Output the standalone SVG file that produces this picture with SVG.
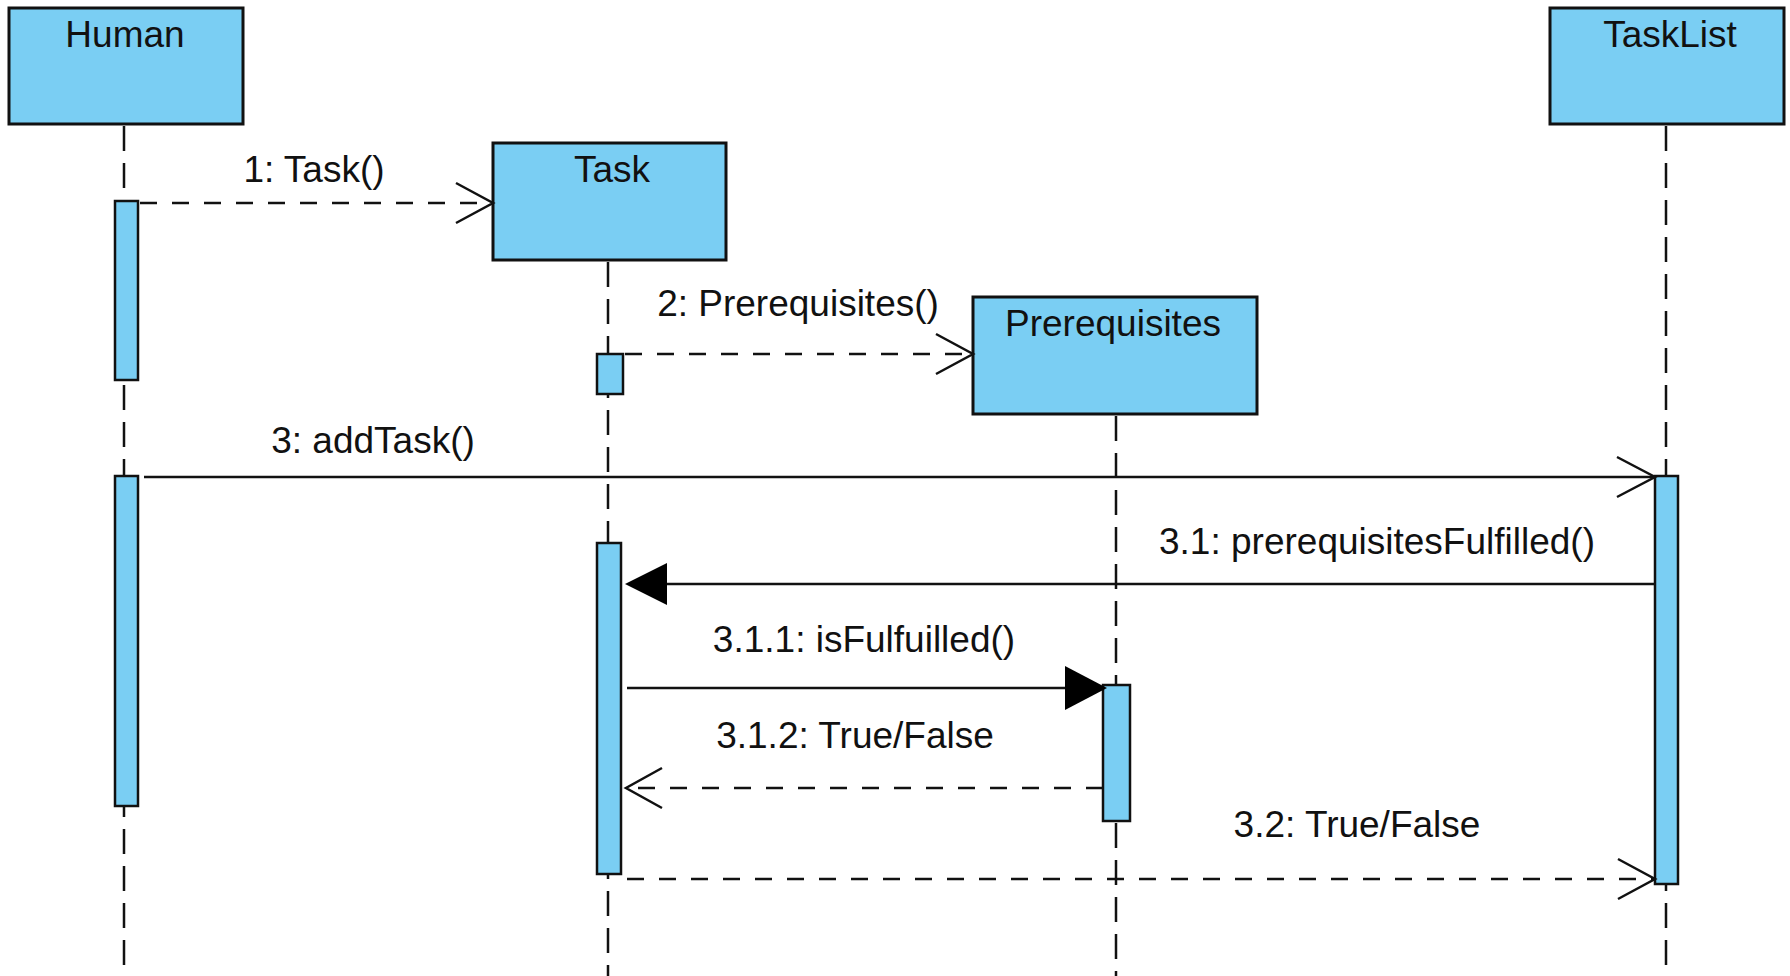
<svg xmlns="http://www.w3.org/2000/svg" width="1790" height="976" viewBox="0 0 1790 976">
  <defs>
    <style>
      .box { fill: #7ACEF3; stroke: #111; stroke-width: 3; }
      .act { fill: #7ACEF3; stroke: #111; stroke-width: 2.5; }
      .life { stroke: #111; stroke-width: 2.5; stroke-dasharray: 25 12; fill: none; }
      .msg { stroke: #111; stroke-width: 2.5; fill: none; }
      .ret { stroke: #111; stroke-width: 2.5; fill: none; stroke-dasharray: 17 15; }
      .head-open { stroke: #111; stroke-width: 2.5; fill: none; }
      .head-fill { fill: #000; stroke: none; }
      text { font-family: "Liberation Sans", Arial, sans-serif; font-size: 37px; fill: #111; }
      .c { text-anchor: middle; }
    </style>
  </defs>

  <rect width="1790" height="976" fill="#fff"/>

  <!-- lifelines -->
  <g id="lifelines">
    <line class="life" x1="124" y1="126" x2="124" y2="976"/>
    <line class="life" x1="608" y1="262" x2="608" y2="976"/>
    <line class="life" x1="1116" y1="416" x2="1116" y2="976"/>
    <line class="life" x1="1666" y1="126" x2="1666" y2="976"/>
  </g>

  <!-- objects -->
  <g id="human">
    <rect class="box" x="9" y="8" width="234" height="116"/>
    <text class="c" x="125" y="47">Human</text>
    <rect class="act" x="115" y="201" width="23" height="179"/>
    <rect class="act" x="115" y="476" width="23" height="330"/>
  </g>

  <g id="task">
    <rect class="box" x="493" y="143" width="233" height="117"/>
    <text class="c" x="612" y="182">Task</text>
    <rect class="act" x="597" y="354" width="26" height="40"/>
    <rect class="act" x="597" y="543" width="24" height="331"/>
  </g>

  <g id="prerequisites">
    <rect class="box" x="973" y="297" width="284" height="117"/>
    <text class="c" x="1113" y="336">Prerequisites</text>
    <rect class="act" x="1103" y="685" width="27" height="136"/>
  </g>

  <g id="tasklist">
    <rect class="box" x="1550" y="8" width="234" height="116"/>
    <text class="c" x="1670" y="47">TaskList</text>
    <rect class="act" x="1655" y="476" width="23" height="408"/>
  </g>

  <!-- messages -->
  <g id="connectors">
    <!-- 1: Task() -->
    <line class="ret" x1="140" y1="203" x2="492" y2="203"/>
    <polyline class="head-open" points="456,183 493,203 456,223"/>
    <text class="c" x="314" y="182">1: Task()</text>

    <!-- 2: Prerequisites() -->
    <line class="ret" x1="625" y1="354" x2="972" y2="354"/>
    <polyline class="head-open" points="936,334 973,354 936,374"/>
    <text class="c" x="798" y="316">2: Prerequisites()</text>

    <!-- 3: addTask() -->
    <line class="msg" x1="144" y1="477" x2="1654" y2="477"/>
    <polyline class="head-open" points="1617,457 1655,477 1617,497"/>
    <text class="c" x="373" y="453">3: addTask()</text>

    <!-- 3.1: prerequisitesFulfilled() -->
    <line class="msg" x1="1655" y1="584" x2="660" y2="584"/>
    <polygon class="head-fill" points="625,584 667,563 667,605"/>
    <text class="c" x="1377" y="554">3.1: prerequisitesFulfilled()</text>

    <!-- 3.1.1: isFulfuilled() -->
    <line class="msg" x1="627" y1="688" x2="1070" y2="688"/>
    <polygon class="head-fill" points="1107,688 1065,666 1065,710"/>
    <text class="c" x="864" y="652">3.1.1: isFulfuilled()</text>

    <!-- 3.1.2: True/False -->
    <line class="ret" x1="1103" y1="788" x2="626" y2="788"/>
    <polyline class="head-open" points="662,768 626,788 662,808"/>
    <text class="c" x="855" y="748">3.1.2: True/False</text>

    <!-- 3.2: True/False -->
    <line class="ret" x1="627" y1="879" x2="1654" y2="879"/>
    <polyline class="head-open" points="1618,859 1655,879 1618,899"/>
    <text class="c" x="1357" y="837">3.2: True/False</text>
  </g>
</svg>
